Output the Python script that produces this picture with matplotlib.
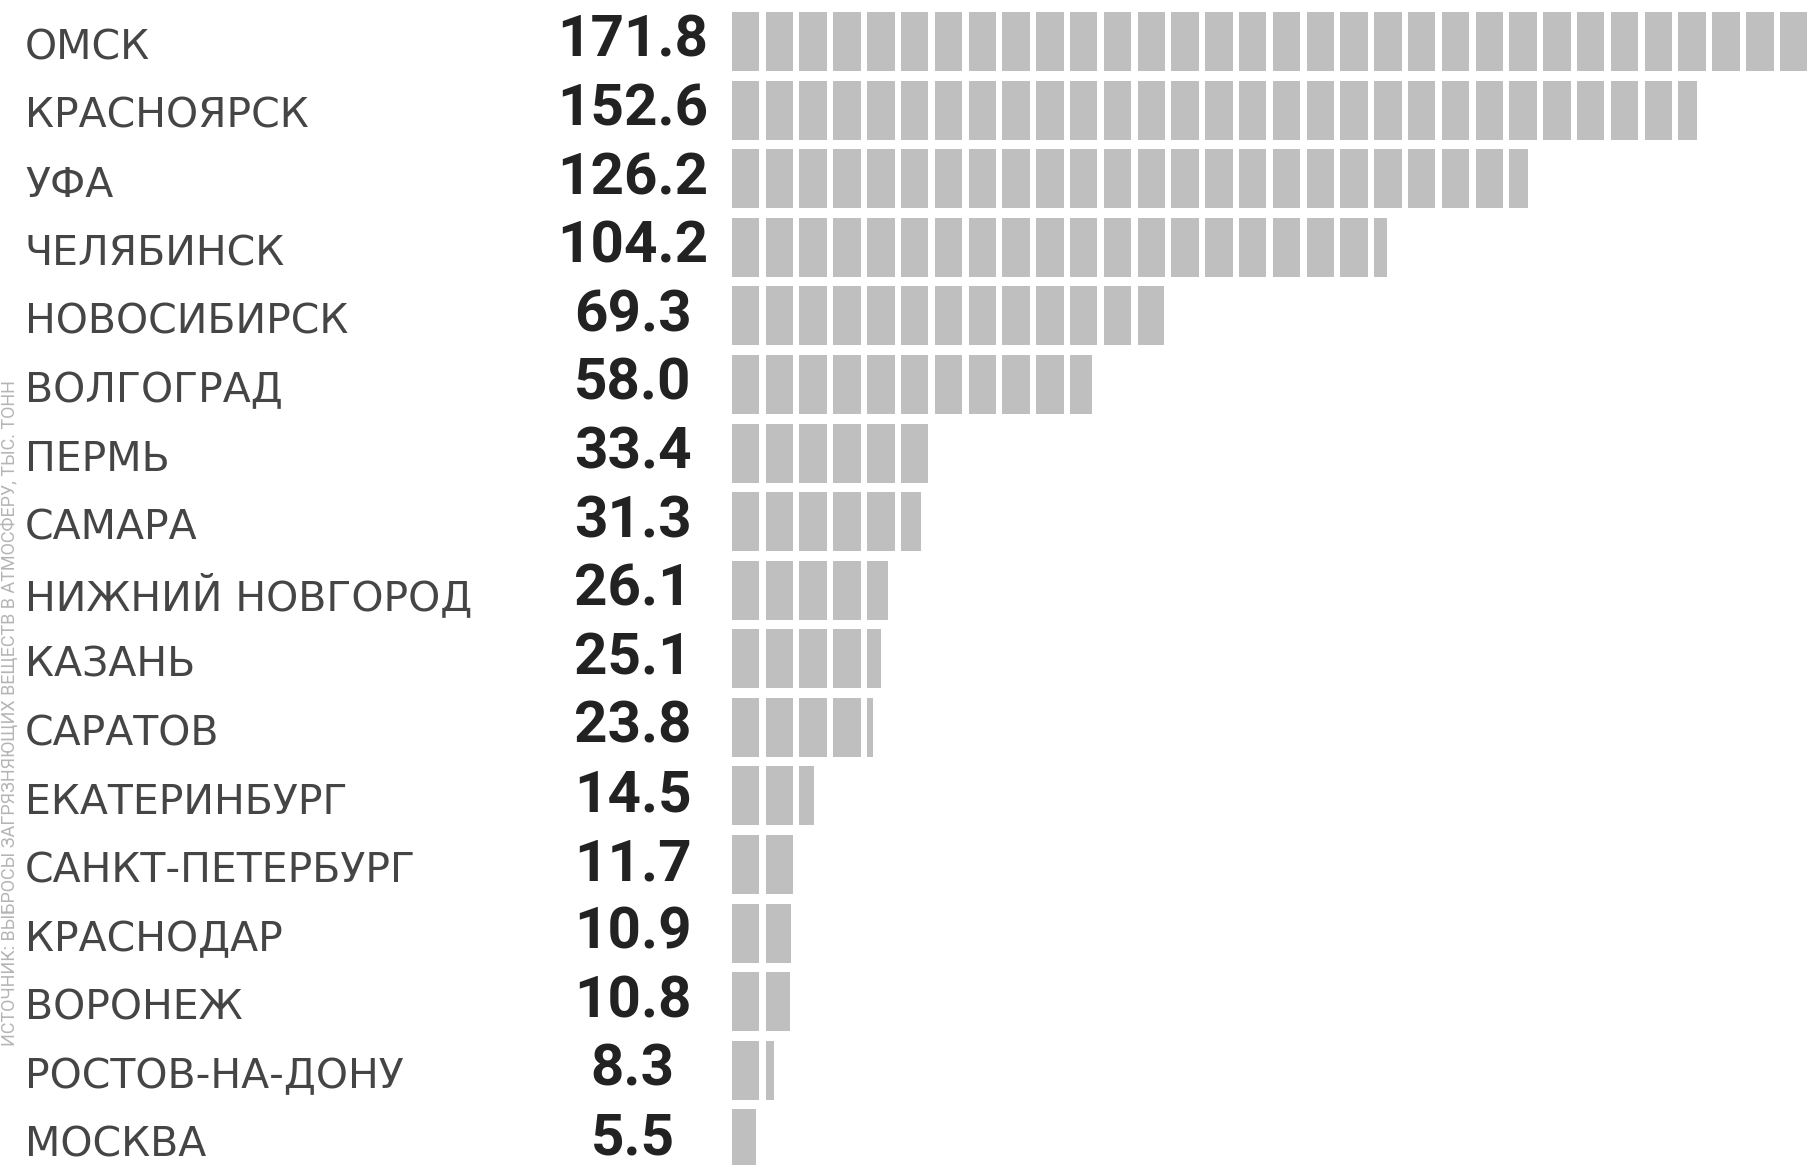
import matplotlib
matplotlib.use("Agg")
import matplotlib.pyplot as plt

cities = ["ОМСК", "КРАСНОЯРСК", "УФА", "ЧЕЛЯБИНСК", "НОВОСИБИРСК", "ВОЛГОГРАД",
          "ПЕРМЬ", "САМАРА", "НИЖНИЙ НОВГОРОД", "КАЗАНЬ", "САРАТОВ",
          "ЕКАТЕРИНБУРГ", "САНКТ-ПЕТЕРБУРГ", "КРАСНОДАР", "ВОРОНЕЖ",
          "РОСТОВ-НА-ДОНУ", "МОСКВА"]
values = [171.8, 152.6, 126.2, 104.2, 69.3, 58.0, 33.4, 31.3, 26.1, 25.1, 23.8,
          14.5, 11.7, 10.9, 10.8, 8.3, 5.5]
side_note = "ИСТОЧНИК: ВЫБРОСЫ ЗАГРЯЗНЯЮЩИХ ВЕЩЕСТВ В АТМОСФЕРУ, ТЫС. ТОНН"

# segmented bar look
start = 1.72
pitch = 5.285
seg_w = 4.3
bar_h = 0.86

fig = plt.figure(figsize=(18.14, 11.65), dpi=100)
ax = fig.add_axes([0, 0, 1, 1])
ax.set_xlim(-112.7, 170.9)
ax.set_ylim(16.38, -0.605)
ax.axis("off")

for i, (name, v) in enumerate(zip(cities, values)):
    segs = []
    x = start
    while x < v:
        segs.append((x, min(seg_w, v - x)))
        x += pitch
    ax.broken_barh(segs, (i - bar_h / 2, bar_h), facecolors="#bfbfbf")
    ax.text(-108.8, i + 0.1, name, ha="left", va="center", fontsize=29.5,
            family="DejaVu Sans", color="#454545")
    ax.text(-13.8, i, f"{v:.1f}", ha="center", va="center", fontsize=42,
            family="Roboto", fontweight="bold", color="#222222")

ax.text(-112.5, 4.93, side_note, rotation=90, ha="left", va="top",
        fontsize=13, family="Roboto", color="#b5b5b5")

fig.savefig("out.png", dpi=100)
